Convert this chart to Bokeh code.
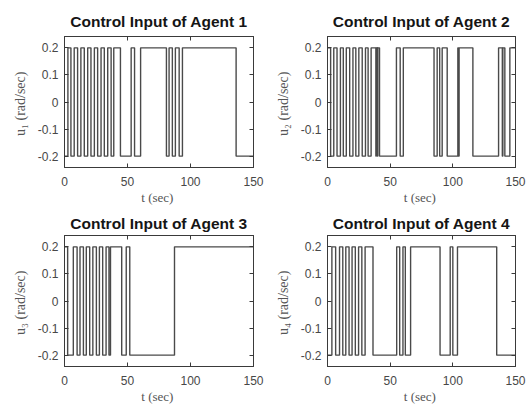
from bokeh.plotting import figure
from bokeh.layouts import gridplot
from bokeh.models import Range1d, FixedTicker, LinearAxis
from bokeh.embed import file_html
from bokeh.resources import INLINE

H, L = 0.2, -0.2
T_END = 150

# segment start times and levels
a1_t = [0, 2.7, 5.1, 7.7, 10.4, 13.0, 15.7, 18.4, 21.0, 23.7, 26.3, 29.0, 31.6, 34.3, 37.0, 39.1,
        44.4, 52.9, 55.6, 60.4, 80.9, 83.0, 85.6, 88.0, 91.0, 93.6, 136.2]
a1_v = [L, H, L, H, L, H, L, H, L, H, L, H, L, H, L, H,
        L, H, L, H, L, H, L, H, L, H, L]

a2_t = [0, 2.5, 5.0, 7.6, 10.3, 12.6, 15.0, 17.7, 20.3, 22.6, 25.0, 27.7, 30.3, 32.4, 34.8,
        38.6, 38.9, 39.8, 40.1, 41.5, 55.0, 58.0, 60.5, 85.0, 87.5, 89.5, 91.5, 95.5,
        104.0, 104.4, 105.0, 116.0, 136.5, 139.5, 139.9, 141.5, 145.5]
a2_v = [H, L, H, L, H, L, H, L, H, L, H, L, H, L, H,
        L, H, L, H, L, H, L, H, L, H, L, H, L,
        H, L, H, L, H, L, H, L, H]

a3_t = [0, 2.5, 7.0, 10.0, 12.3, 15.0, 17.3, 20.0, 22.5, 25.3, 27.7, 30.3, 33.0, 35.3, 36.5,
        45.4, 49.0, 51.8, 87.3]
a3_v = [H, L, H, L, H, L, H, L, H, L, H, L, H, L, H,
        L, H, L, H]

a4_t = [0, 3.5, 6.5, 9.6, 12.2, 14.6, 17.2, 19.6, 22.2, 24.8, 27.4, 30.0, 36.3, 55.2, 57.6,
        60.2, 62.1, 66.3, 89.8, 97.9, 100.0, 103.7, 135.0]
a4_v = [L, H, L, H, L, H, L, H, L, H, L, H, L, H, L,
        H, L, H, L, H, L, H, L]

titles = ["Control Input of Agent 1", "Control Input of Agent 2",
          "Control Input of Agent 3", "Control Input of Agent 4"]
ylabels = ["u\u2081  (rad/sec)", "u\u2082  (rad/sec)", "u\u2083  (rad/sec)", "u\u2084  (rad/sec)"]
x_ticks = [0, 50, 100, 150]
y_ticks = [-0.2, -0.1, 0, 0.1, 0.2]
y_tick_labels = ["-0.2", "-0.1", "0", "0.1", "0.2"]

series = [(a1_t, a1_v), (a2_t, a2_v), (a3_t, a3_v), (a4_t, a4_v)]
# (height, left, right, top, bottom, title standoff)
layouts = [(208, 64, 12, 35, 41, 13), (208, 62, 14, 36, 41, 13),
           (198, 64, 11, 27, 40, 7), (198, 62, 15, 27, 40, 7)]

TICK_COL = "#474747"
BOX = "#3a3a3a"
figs = []
for i in range(4):
    ts, vs = series[i]
    h, bl, br, bt, bb, tso = layouts[i]
    p = figure(width=265, height=h, output_backend="svg", toolbar_location=None,
               x_range=Range1d(0, 150), y_range=Range1d(-0.242, 0.242),
               min_border_left=bl, min_border_right=br, min_border_top=bt, min_border_bottom=bb,
               title=titles[i])
    p.title.align = "center"
    p.title.text_font = "Liberation Sans"
    p.title.text_font_size = "15.5px"
    p.title.text_font_style = "bold"
    p.title.text_color = "#151515"
    p.title.standoff = tso
    p.xgrid.visible = False
    p.ygrid.visible = False
    p.outline_line_color = BOX
    p.outline_line_width = 1
    p.background_fill_color = "white"
    p.border_fill_color = "white"

    xs = list(ts) + [T_END]
    ys = list(vs) + [vs[-1]]
    p.step(xs, ys, mode="after", line_color="#4a4a4a", line_width=1.4)

    for ax in (p.xaxis[0], p.yaxis[0]):
        ax.major_tick_in = 4
        ax.major_tick_out = 0
        ax.minor_tick_line_color = None
        ax.axis_line_color = BOX
        ax.major_tick_line_color = BOX
        ax.major_label_text_font = "Liberation Sans"
        ax.major_label_text_font_size = "12px"
        ax.major_label_text_color = TICK_COL
        ax.axis_label_text_font = "Liberation Serif"
        ax.axis_label_text_font_style = "normal"
        ax.axis_label_text_color = "#555555"
    p.xaxis.axis_label_text_font_size = "13px"
    p.yaxis.axis_label_text_font_size = "14px"
    p.xaxis.ticker = FixedTicker(ticks=x_ticks)
    p.yaxis.ticker = FixedTicker(ticks=y_ticks)
    p.yaxis.major_label_overrides = {t: s for t, s in zip(y_ticks, y_tick_labels)}
    p.xaxis.axis_label = "t  (sec)"
    p.yaxis.axis_label = ylabels[i]
    p.xaxis.major_label_standoff = 9
    p.xaxis.axis_label_standoff = 1
    p.yaxis.major_label_standoff = 6
    p.yaxis.axis_label_standoff = 7

    # MATLAB-style box ticks on right and top (as label-free minor ticks)
    ra = LinearAxis(ticker=FixedTicker(ticks=[], minor_ticks=y_ticks),
                    minor_tick_in=4, minor_tick_out=0, minor_tick_line_color=BOX,
                    major_tick_line_color=None, axis_line_color=BOX,
                    major_label_standoff=0, axis_label_standoff=0)
    p.add_layout(ra, "right")
    ta = LinearAxis(ticker=FixedTicker(ticks=[], minor_ticks=x_ticks),
                    minor_tick_in=4, minor_tick_out=0, minor_tick_line_color=BOX,
                    major_tick_line_color=None, axis_line_color=BOX,
                    major_label_standoff=0, axis_label_standoff=0)
    p.add_layout(ta, "above")
    figs.append(p)

grid = gridplot([[figs[0], figs[1]], [figs[2], figs[3]]], toolbar_location=None)
open("out.html", "w").write(file_html(grid, INLINE))
